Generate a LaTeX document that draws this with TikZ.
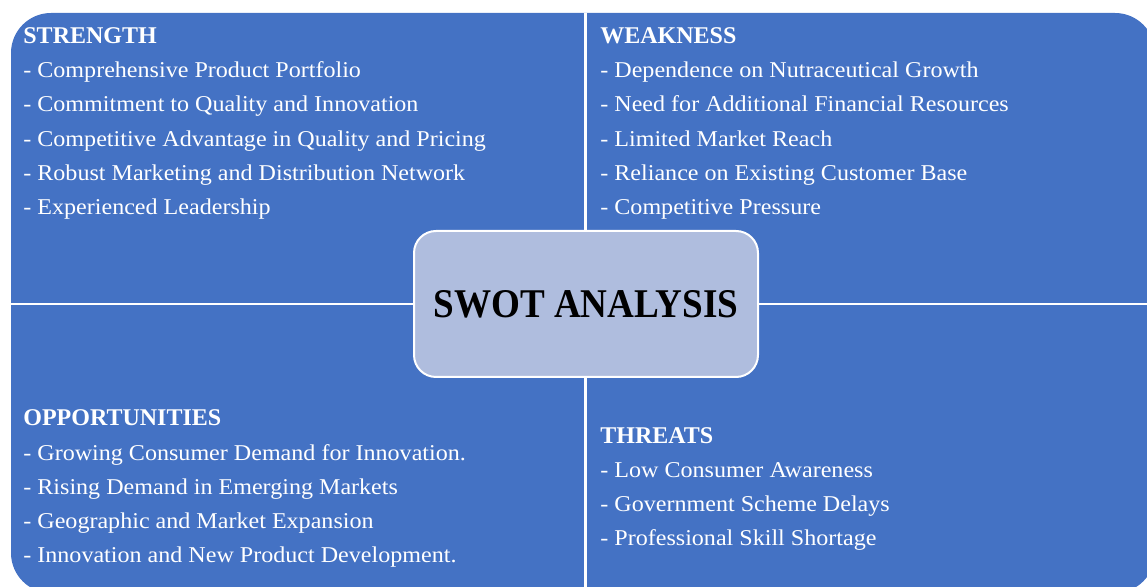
\documentclass[tikz,border=0pt]{standalone}
\usepackage{fontspec}
\setmainfont{Liberation Serif}
\definecolor{swotblue}{HTML}{4472C4}
\definecolor{swotlight}{HTML}{AFBDDE}
\tikzset{
  head/.style={anchor=base west, inner sep=0pt, text=white, font=\fontsize{12}{14}\selectfont\bfseries},
  item/.style={anchor=base west, inner sep=0pt, text=white,
    font=\fontsize{11.3}{13}\selectfont\addfontfeature{FakeStretch=1.065}},
  centre/.style={draw=white, line width=1pt, fill=swotlight, rounded corners=11pt,
    minimum width=172pt, minimum height=73pt,
    font=\fontsize{20.4}{24}\selectfont\bfseries\addfontfeature{FakeStretch=0.91}}
}
\begin{document}
\begin{tikzpicture}[x=0.5pt, y=-0.5pt]
  \useasboundingbox (0,0) rectangle (1147,587);
  \clip (0,0) rectangle (1147,587);
  \fill[swotblue, rounded corners=20pt] (11,13) rectangle (1155,593);
  \draw[white, line width=1.5pt] (585.5,13) -- (585.5,593);
  \draw[white, line width=1.4pt] (11,304) -- (1155,304);

  % strength
  \node[head] (strength) at (23,43.5) {STRENGTH};
  \foreach \t [count=\i] in {Comprehensive Product Portfolio, Commitment to Quality and Innovation,
    Competitive Advantage in Quality and Pricing, Robust Marketing and Distribution Network,
    Experienced Leadership} {
    \node[item] (s\i) at (23, 43.5+34.2*\i) {- \t};
  }

  % weakness
  \node[head] (weakness) at (600,43.5) {WEAKNESS};
  \foreach \t [count=\i] in {Dependence on Nutraceutical Growth, Need for Additional Financial Resources,
    Limited Market Reach, Reliance on Existing Customer Base, Competitive Pressure} {
    \node[item] (w\i) at (600, 43.5+34.2*\i) {- \t};
  }

  % opportunities
  \node[head] (opport) at (23,426) {OPPORTUNITIES};
  \foreach \t [count=\i] in {Growing Consumer Demand for Innovation., Rising Demand in Emerging Markets,
    Geographic and Market Expansion, Innovation and New Product Development.} {
    \node[item] (o\i) at (23, 426+34.2*\i) {- \t};
  }

  % threats
  \node[head] (threats) at (600,443.3) {THREATS};
  \foreach \t [count=\i] in {Low Consumer Awareness, Government Scheme Delays,
    Professional Skill Shortage} {
    \node[item] (t\i) at (600, 443.3+34*\i) {- \t};
  }

  \node[centre] (swot) at (586,304) {SWOT ANALYSIS};
\end{tikzpicture}
\end{document}
